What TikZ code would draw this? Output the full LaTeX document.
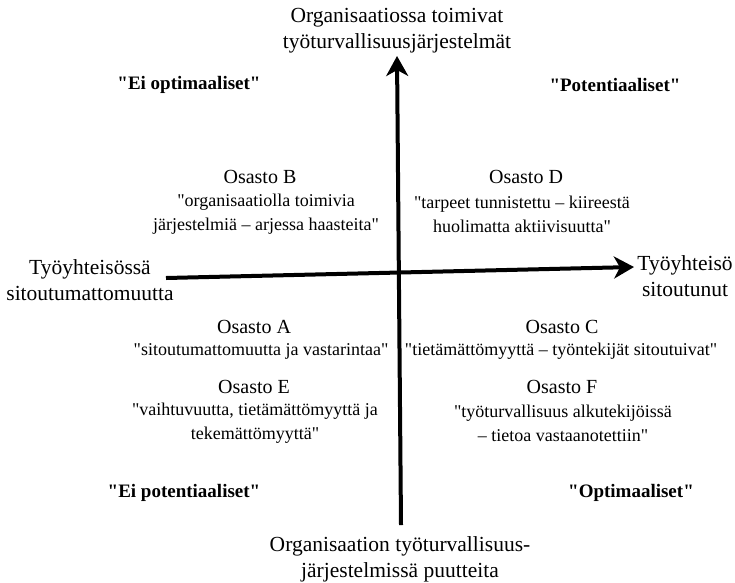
\documentclass[tikz,border=0pt]{standalone}
\usepackage{fontspec}
\setmainfont{Liberation Serif}[Ligatures=TeXOff]
\usetikzlibrary{arrows.meta}
\tikzset{
  axis/.style={line width=4pt,-{Stealth[length=20pt,width=22pt,inset=6pt]}},
  axislabel/.style={align=center,font=\fontsize{21.5}{26}\selectfont},
  dept/.style={align=center,font=\fontsize{20}{24}\selectfont},
  quote/.style={align=center,font=\fontsize{18}{24}\selectfont},
  corner/.style={font=\fontsize{19}{24}\selectfont\bfseries}
}
\begin{document}
\begin{tikzpicture}[x=1pt,y=-1pt]
\useasboundingbox (0,0) rectangle (735,582);

% axes
\coordinate (west)  at (166,278);
\coordinate (east)  at (634,267);
\coordinate (south) at (401,525);
\coordinate (north) at (397,56);
\draw[axis] (west) -- (east);
\draw[axis] (south) -- (north);

% axis labels
\node[axislabel] (top)    at (397,31)  {Organisaatiossa toimivat\\työturvallisuusjärjestelmät};
\node[axislabel] (bottom) at (400,559) {Organisaation työturvallisuus-\\järjestelmissä puutteita};
\node[axislabel] (left)   at (90,280)  {Työyhteisössä\\sitoutumattomuutta};
\node[axislabel] (right)  at (685,276) {Työyhteisö\\sitoutunut};

% quadrant names
\node[corner] (nw) at (189,85)  {"Ei optimaaliset"};
\node[corner] (ne) at (615,85)  {"Potentiaaliset"};
\node[corner] (sw) at (184,493) {"Ei potentiaaliset"};
\node[corner] (se) at (631,493) {"Optimaaliset"};

% departments
\node[dept]  (B)  at (260,177) {Osasto B};
\node[quote] (Bq) at (266,214) {"organisaatiolla toimivia\\järjestelmiä – arjessa haasteita"};
\node[dept]  (D)  at (526,177) {Osasto D};
\node[quote] (Dq) at (522,214) {"tarpeet tunnistettu – kiireestä\\huolimatta aktiivisuutta"};
\node[dept]  (A)  at (254,327) {Osasto A};
\node[quote] (Aq) at (261,351) {"sitoutumattomuutta ja vastarintaa"};
\node[dept]  (C)  at (562,327) {Osasto C};
\node[quote] (Cq) at (561,351) {"tietämättömyyttä – työntekijät sitoutuivat"};
\node[dept]  (E)  at (254,387) {Osasto E};
\node[quote] (Eq) at (255,423) {"vaihtuvuutta, tietämättömyyttä ja\\tekemättömyyttä"};
\node[dept]  (F)  at (562,387) {Osasto F};
\node[quote] (Fq) at (563,423) {"työturvallisuus alkutekijöissä\\– tietoa vastaanotettiin"};
\end{tikzpicture}
\end{document}
